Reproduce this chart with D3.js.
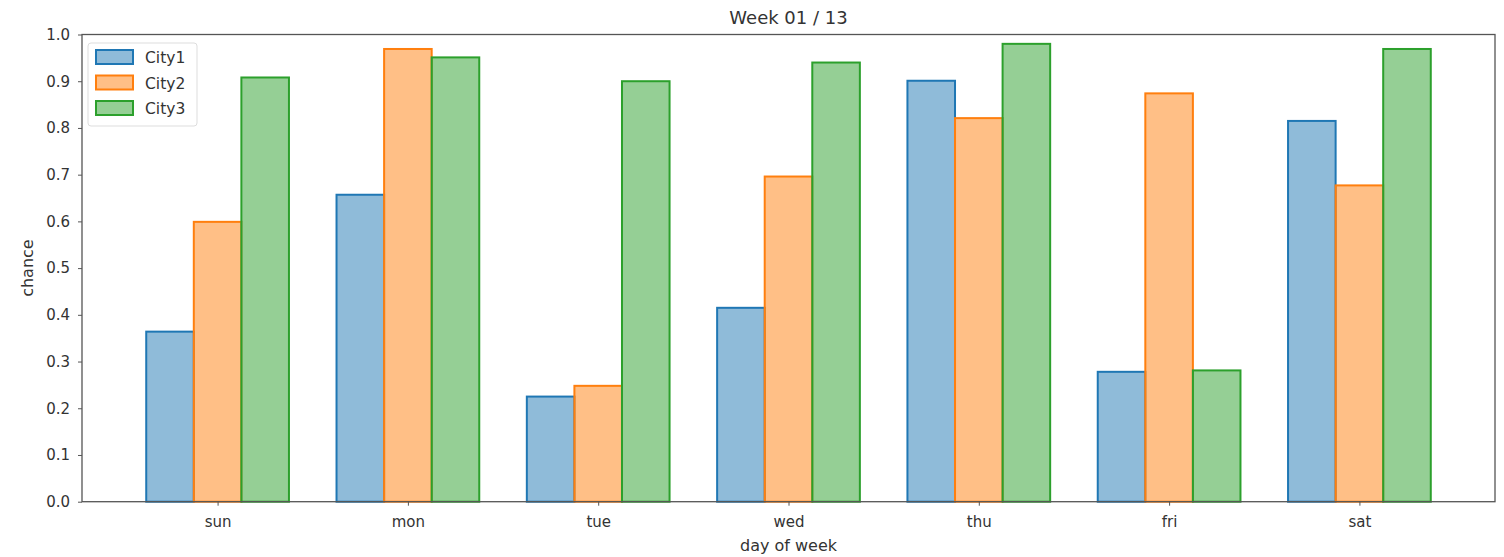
<!DOCTYPE html>
<html><head><meta charset="utf-8">
<script src="https://cdn.jsdelivr.net/npm/d3@7"></script>
<style>body{margin:0;background:#fff;} text{font-family:"DejaVu Sans",sans-serif;fill:#333;}</style>
</head><body><svg id="c" width="1504" height="557"></svg>
<script>
const days = ["sun","mon","tue","wed","thu","fri","sat"];
const seriesNames = ["City1","City2","City3"];
const city1 = [0.364, 0.657, 0.225, 0.415, 0.901, 0.278, 0.815];
const city2 = [0.599, 0.969, 0.248, 0.696, 0.821, 0.874, 0.677];
const city3 = [0.908, 0.951, 0.900, 0.940, 0.980, 0.281, 0.969];
const yTicks = [0,0.1,0.2,0.3,0.4,0.5,0.6,0.7,0.8,0.9,1.0];
const titleText = "Week 01 / 13";
const xLabel = "day of week", yLabel = "chance";

const edge = ["#1f77b4","#ff7f0e","#2ca02c"];
const data = [city1, city2, city3];
const L=82, R=1495, T=34.5, B=501.7;
const svg = d3.select("#c");
const x = d3.scaleLinear().domain([-0.7125, 6.7125]).range([L,R]);
const y = d3.scaleLinear().domain([0,1]).range([B,T]);
const bw = 0.25;

data.forEach((vals,s)=>{
  svg.append("g").selectAll("rect").data(vals).join("rect")
    .attr("x",(d,i)=>x(i+(s-1)*bw-bw/2))
    .attr("width",x(bw)-x(0))
    .attr("y",d=>y(d)).attr("height",d=>y(0)-y(d))
    .attr("fill",edge[s]).attr("fill-opacity",0.5)
    .attr("stroke",edge[s]).attr("stroke-width",2);
});

// frame
svg.append("rect").attr("x",L).attr("y",T).attr("width",R-L).attr("height",B-T)
  .attr("fill","none").attr("stroke","#555").attr("stroke-width",1.3);

const yAxis = d3.axisLeft(y).tickValues(yTicks).tickFormat(d3.format(".1f")).tickSize(4).tickPadding(8);
const gy = svg.append("g").attr("transform",`translate(${L},0)`).call(yAxis);
const xAxis = d3.axisBottom(x).tickValues(d3.range(days.length)).tickFormat(i=>days[i]).tickSize(4).tickPadding(11);
const gx = svg.append("g").attr("transform",`translate(0,${B})`).call(xAxis);
[gx,gy].forEach(g=>{g.select(".domain").remove();g.selectAll("line").attr("stroke","#555");g.selectAll("text").attr("font-size",15).attr("fill","#333").attr("font-family","DejaVu Sans");});

svg.append("text").attr("x",(L+R)/2).attr("y",24).attr("text-anchor","middle").attr("font-size",18).text(titleText);
svg.append("text").attr("x",(L+R)/2).attr("y",551).attr("text-anchor","middle").attr("font-size",16).text(xLabel);
svg.append("text").attr("transform",`translate(33,${(T+B)/2}) rotate(-90)`).attr("text-anchor","middle").attr("font-size",16).text(yLabel);

// legend
const lg = svg.append("g");
lg.append("rect").attr("x",88).attr("y",43).attr("width",109).attr("height",83).attr("rx",3)
  .attr("fill","#fff").attr("fill-opacity",0.8).attr("stroke","#ddd");
seriesNames.forEach((n,i)=>{
  lg.append("rect").attr("x",96).attr("y",50+i*25.5).attr("width",37).attr("height",14)
    .attr("fill",edge[i]).attr("fill-opacity",0.5).attr("stroke",edge[i]).attr("stroke-width",2);
  lg.append("text").attr("x",145).attr("y",63+i*25.5).attr("font-size",15.5).text(n);
});
</script></body></html>
